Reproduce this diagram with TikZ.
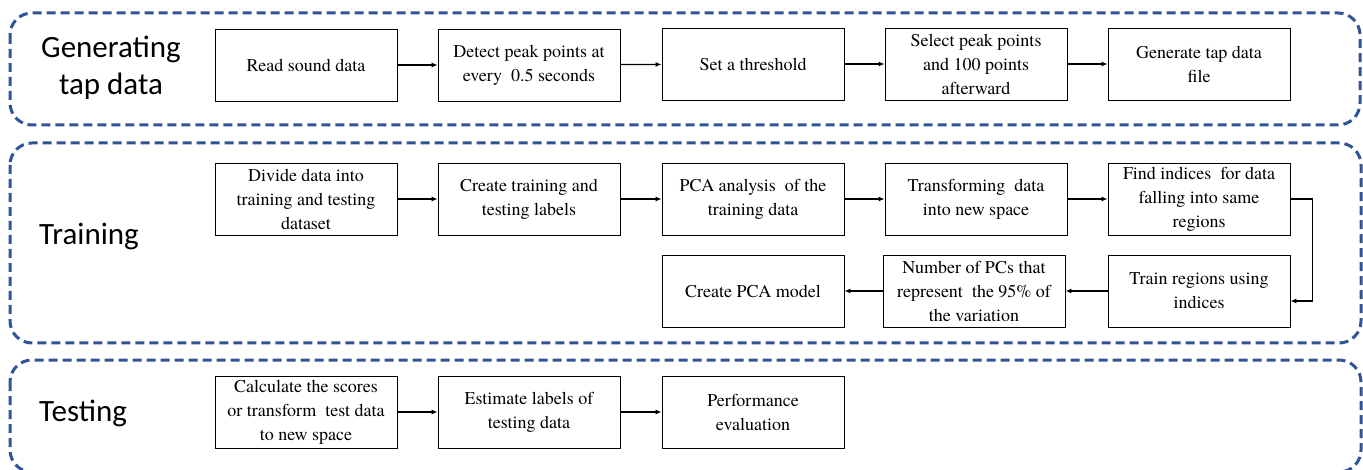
\documentclass[tikz,border=0pt]{standalone}
\usepackage{fontspec}
\IfFontExistsTF{texgyretermes-regular.otf}
  {\newfontfamily\boxfont{texgyretermes-regular.otf}}
  {\newfontfamily\boxfont{Liberation Serif}}
\newfontfamily\titlefont{Carlito}
\usetikzlibrary{arrows.meta}
\definecolor{groupblue}{HTML}{2F5597}
\tikzset{
  stepbox/.style={draw=black, line width=0.9pt, minimum width=182pt, minimum height=72pt,
    inner sep=0pt, align=center,
    font=\boxfont\fontsize{18}{24}\selectfont},
  group/.style={draw=groupblue, line width=3pt, dash pattern=on 9pt off 5pt, rounded corners=22pt},
  stagetitle/.style={font=\titlefont\fontsize{31}{37}\selectfont, align=center, inner sep=0pt},
  flow/.style={line width=1.2pt, -{Latex[length=6pt,width=5pt]}}
}
\begin{document}
\begin{tikzpicture}[x=1pt,y=-1pt]
\useasboundingbox (0,0) rectangle (1363,470);

% stage frames
\draw[group] (10,13) rectangle (1360,125);
\draw[group] (10,143) rectangle (1361,343);
\draw[group] (10,360) rectangle (1361,472);

% stage titles
\node[stagetitle] (t1) at (111,68) {Generating\\tap data};
\node[stagetitle, anchor=west] (t2) at (39,237) {Training};
\node[stagetitle, anchor=west] (t3) at (39,413) {Testing};

% generating tap data
\node[stepbox] (g1) at (306,65) {Read sound data};
\node[stepbox] (g2) at (529,65) {Detect peak points at\\every~ 0.5 seconds};
\node[stepbox] (g3) at (753,64) {Set a threshold};
\node[stepbox] (g4) at (976,64) {Select peak points\\and 100 points\\afterward};
\node[stepbox] (g5) at (1199,64) {Generate tap data\\file};

% training
\node[stepbox] (r1) at (306,199) {Divide data into\\training and testing\\dataset};
\node[stepbox] (r2) at (529,199) {Create training and\\testing labels};
\node[stepbox] (r3) at (753,199) {PCA analysis~ of the\\training data};
\node[stepbox] (r4) at (976,199) {Transforming~ data\\into new space};
\node[stepbox] (r5) at (1199,199) {Find indices~ for data\\falling into same\\regions};
\node[stepbox] (r6) at (1199,291) {Train regions using\\indices};
\node[stepbox] (r7) at (974,291) {Number of PCs that\\represent~ the 95\% of\\the variation};
\node[stepbox] (r8) at (753,291) {Create PCA model};

% testing
\node[stepbox] (s1) at (306,412) {Calculate the scores\\or transform~ test data\\to new space};
\node[stepbox] (s2) at (529,412) {Estimate labels of\\testing data};
\node[stepbox] (s3) at (753,412) {Performance\\evaluation};

% connectors
\draw[flow] (g1) -- (g2);
\draw[flow] (g2) -- (g3);
\draw[flow] (g3) -- (g4);
\draw[flow] (g4) -- (g5);
\draw[flow] (r1) -- (r2);
\draw[flow] (r2) -- (r3);
\draw[flow] (r3) -- (r4);
\draw[flow] (r4) -- (r5);
\draw[flow] (r5.east) -- ++(22,0) |- ([yshift=-10pt]r6.east);
\draw[flow] (r6) -- (r7);
\draw[flow] (r7) -- (r8);
\draw[flow] (s1) -- (s2);
\draw[flow] (s2) -- (s3);
\end{tikzpicture}
\end{document}
